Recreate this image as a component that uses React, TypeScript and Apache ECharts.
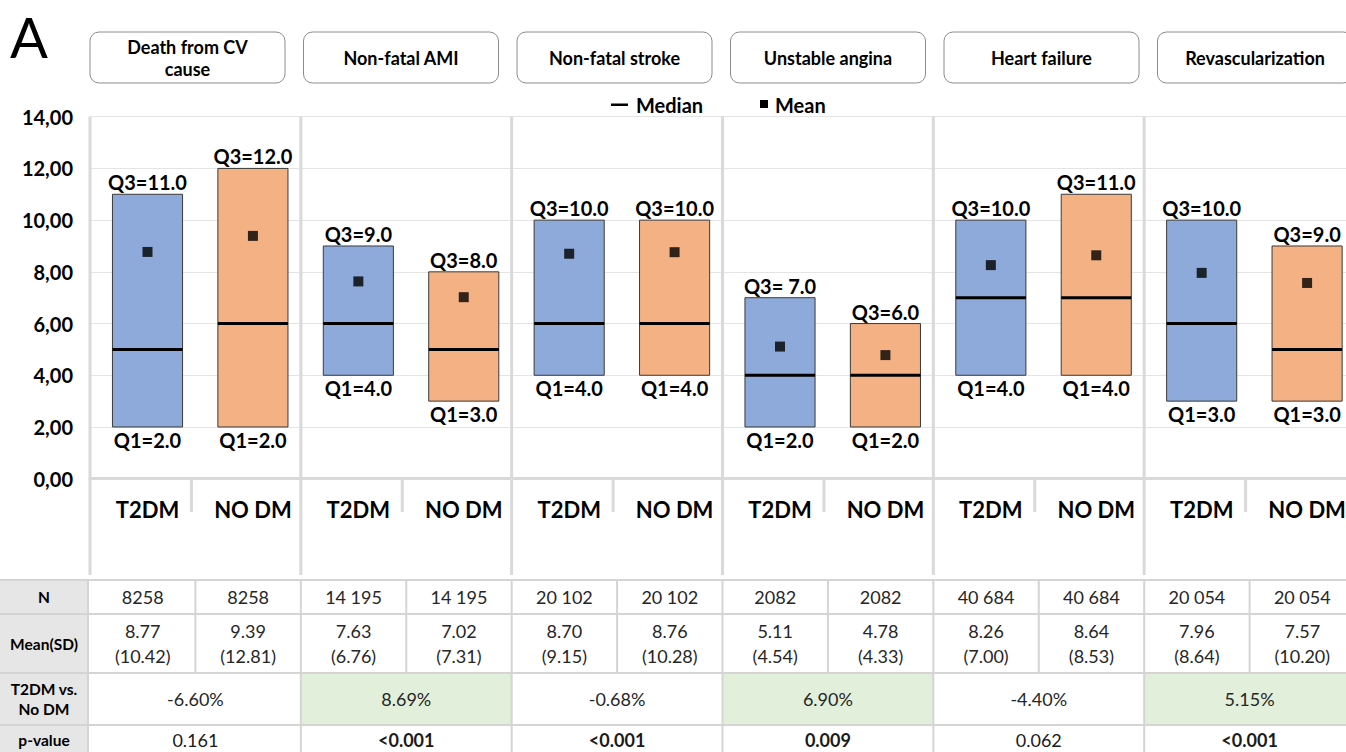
import React, { useEffect, useRef } from "react";
import * as echarts from "echarts";

const outcomes = ["Death from CV\ncause", "Non-fatal AMI", "Non-fatal stroke", "Unstable angina", "Heart failure", "Revascularization"];
const groupLabels = ["T2DM", "NO DM"];
const categories = outcomes.flatMap(() => groupLabels);
const q1Values = [2, 2, 4, 3, 4, 4, 2, 2, 4, 4, 3, 3];
const q3Values = [11, 12, 9, 8, 10, 10, 7, 6, 10, 11, 10, 9];
const q1Labels = ["Q1=2.0", "Q1=2.0", "Q1=4.0", "Q1=3.0", "Q1=4.0", "Q1=4.0", "Q1=2.0", "Q1=2.0", "Q1=4.0", "Q1=4.0", "Q1=3.0", "Q1=3.0"];
const q3Labels = ["Q3=11.0", "Q3=12.0", "Q3=9.0", "Q3=8.0", "Q3=10.0", "Q3=10.0", "Q3= 7.0", "Q3=6.0", "Q3=10.0", "Q3=11.0", "Q3=10.0", "Q3=9.0"];
const medianValues = [5, 6, 6, 5, 6, 6, 4, 4, 7, 7, 6, 5];
const meanValues = [8.77, 9.39, 7.63, 7.02, 8.7, 8.76, 5.11, 4.78, 8.26, 8.64, 7.96, 7.57];
const sdValues = [10.42, 12.81, 6.76, 7.31, 9.15, 10.28, 4.54, 4.33, 7.0, 8.53, 8.64, 10.2];
const nValues = ["8258", "8258", "14 195", "14 195", "20 102", "20 102", "2082", "2082", "40 684", "40 684", "20 054", "20 054"];
const diffValues = ["-6.60%", "8.69%", "-0.68%", "6.90%", "-4.40%", "5.15%"];
const pValues = ["0.161", "<0.001", "<0.001", "0.009", "0.062", "<0.001"];
const rowHeaders = ["N", "Mean(SD)", "T2DM vs.\nNo DM", "p-value"];
const yMin = 0;
const yMax = 14;
const yInterval = 2;

const FONT = "Lato, 'Open Sans', sans-serif";
const BLUE = "#8eaadb";
const ORANGE = "#f4b183";
const GREEN = "#e2efda";
const LINE = "#d9d9d9";
const OFF = 4.8;
const INNER_W = 1356;

export default function App() {
  const ref = useRef<HTMLDivElement>(null);
  useEffect(() => {
    if (!ref.current) return;
    const chart = echarts.init(ref.current, null, { renderer: "svg" });
    const option: any = {
      animation: false,
      grid: { left: 90, right: 1, top: 116.7, bottom: 273.3 },
      xAxis: {
        type: "category",
        data: categories,
        axisLine: { show: true, lineStyle: { color: LINE, width: 3 } },
        axisTick: { show: false },
        splitLine: { show: false },
        axisLabel: {
          interval: 0,
          margin: 20,
          fontSize: 22,
          fontWeight: "bold",
          fontFamily: FONT,
          color: "#000",
          padding: [0, 0, 0, OFF * 2],
        },
      },
      yAxis: {
        type: "value",
        min: yMin,
        max: yMax,
        interval: yInterval,
        axisLine: { show: false },
        axisTick: { show: false },
        splitLine: { lineStyle: { color: "#e4e4e4", width: 1 } },
        axisLabel: {
          margin: 17,
          fontSize: 20,
          fontWeight: "bold",
          fontFamily: FONT,
          color: "#000",
          formatter: (v: number) => v.toFixed(2).replace(".", ","),
        },
      },
      series: [
        {
          type: "custom",
          name: "Box",
          data: categories.map((_, i) => [i, q1Values[i], q3Values[i], medianValues[i]]),
          encode: { x: 0, y: [1, 2, 3] },
          renderItem: (params: any, api: any) => {
            const i = api.value(0);
            const lo = api.value(1);
            const hi = api.value(2);
            const md = api.value(3);
            const pLo = api.coord([i, lo]);
            const pHi = api.coord([i, hi]);
            const pMd = api.coord([i, md]);
            const bw = api.size([1, 0])[0] * 0.665;
            const cx = pLo[0] + OFF;
            const fill = i % 2 === 0 ? BLUE : ORANGE;
            const txt = (text: string, y: number, va: string) => ({
              type: "text",
              x: cx,
              y,
              style: {
                text,
                fill: "#000",
                fontSize: 20,
                fontWeight: "bold",
                fontFamily: FONT,
                align: "center",
                verticalAlign: va,
                textAlign: "center",
                textVerticalAlign: va,
              },
            });
            return {
              type: "group",
              children: [
                {
                  type: "rect",
                  shape: { x: cx - bw / 2, y: pHi[1], width: bw, height: pLo[1] - pHi[1] },
                  style: { fill, stroke: "#3a3a3a", lineWidth: 1 },
                },
                {
                  type: "rect",
                  shape: { x: cx - bw / 2, y: pMd[1] - 1.5, width: bw, height: 3 },
                  style: { fill: "#000" },
                },
                txt(q3Labels[i], pHi[1] - 2, "bottom"),
                txt(q1Labels[i], pLo[1] + 3, "top"),
              ],
            };
          },
          z: 3,
        },
        {
          type: "scatter",
          name: "Mean",
          data: meanValues.map((v, i) => [i, v]),
          symbol: "rect",
          symbolSize: 10,
          symbolOffset: [OFF, 0],
          itemStyle: { color: "#000" },
          z: 4,
        },
      ],
    };
    chart.setOption(option);

    const cx = (k: number) => chart.convertToPixel({ xAxisIndex: 0 }, k) as number;
    const cy = (v: number) => chart.convertToPixel({ yAxisIndex: 0 }, v) as number;
    const w = cx(1) - cx(0);
    const bound = (k: number) => cx(k) - w / 2;
    const yTop = cy(yMax);
    const y0 = cy(0);
    const g: any[] = [];

    const text = (x: number, y: number, t: string, size: number, bold: boolean, extra: any = {}) => ({
      type: "text",
      x,
      y,
      z: 10,
      style: {
        text: t,
        fill: extra.fill || "#000",
        fontSize: size,
        fontWeight: bold ? "bold" : "normal",
        fontFamily: FONT,
        textAlign: extra.align || "center",
        textVerticalAlign: "middle",
        align: extra.align || "center",
        verticalAlign: "middle",
        lineHeight: extra.lineHeight || size * 1.2,
      },
    });
    const line = (x1: number, y1: number, x2: number, y2: number, width = 2.5, color = LINE) => ({
      type: "line",
      z: 1,
      shape: { x1, y1, x2, y2 },
      style: { stroke: color, lineWidth: width },
    });

    // Panel letter
    g.push(text(29, 36, "A", 56, false));

    // Header boxes
    outcomes.forEach((o, i) => {
      const bx = 90 + i * 213.5;
      g.push({
        type: "rect",
        z: 5,
        shape: { x: bx, y: 32, width: 195, height: 51, r: 9 },
        style: { fill: "#fff", stroke: "#8c8c8c", lineWidth: 1 },
      });
      g.push(text(bx + 97.5, 58, o, 18, true, { lineHeight: 22 }));
    });

    // Legend
    g.push({ type: "rect", z: 10, shape: { x: 611, y: 103.5, width: 17, height: 2.5 }, style: { fill: "#000" } });
    g.push(text(636, 105, "Median", 20, true, { align: "left" }));
    g.push({ type: "rect", z: 10, shape: { x: 760, y: 100, width: 8, height: 8 }, style: { fill: "#000" } });
    g.push(text(775, 105, "Mean", 20, true, { align: "left" }));

    // Group dividers and sub-dividers
    for (let k = 0; k <= categories.length; k += 2) {
      g.push(line(bound(k), yTop, bound(k), 575, 3));
    }
    for (let k = 1; k < categories.length; k += 2) {
      g.push(line(bound(k) - 4, y0, bound(k) - 4, 512, 3));
    }

    // Table
    const rows = [580, 614, 673, 725, 762];
    const left = bound(0) - 2;
    rowHeaders.forEach((h, r) => {
      g.push({
        type: "rect",
        z: 0,
        shape: { x: 0, y: rows[r], width: left, height: rows[r + 1] - rows[r] },
        style: { fill: "#e7e6e6" },
      });
      const yc = r === 3 ? 740 : (rows[r] + rows[r + 1]) / 2;
      g.push(text(left / 2, yc, h, 15.5, true, { lineHeight: 20 }));
    });
    outcomes.forEach((_, gi) => {
      if (gi % 2 === 1) {
        g.push({
          type: "rect",
          z: 0,
          shape: { x: bound(gi * 2), y: rows[2], width: bound(gi * 2 + 2) - bound(gi * 2), height: rows[3] - rows[2] },
          style: { fill: GREEN },
        });
      }
      const mid = (bound(gi * 2) + bound(gi * 2 + 2)) / 2;
      g.push(text(mid, (rows[2] + rows[3]) / 2, diffValues[gi], 18, false, { fill: "#262626" }));
      const p = pValues[gi];
      const sig = p.startsWith("<") || parseFloat(p) < 0.05;
      g.push(text(mid, 740, p, 18, sig, { fill: "#1a1a1a", lineHeight: 20 }));
    });
    categories.forEach((_, k) => {
      const mid = (bound(k) + bound(k + 1)) / 2;
      g.push(text(mid, (rows[0] + rows[1]) / 2, nValues[k], 18, false, { fill: "#262626" }));
      g.push(
        text(mid, (rows[1] + rows[2]) / 2, `${meanValues[k].toFixed(2)}\n(${sdValues[k].toFixed(2)})`, 18, false, {
          fill: "#262626",
          lineHeight: 25,
        })
      );
    });
    rows.slice(0, 4).forEach((y) => g.push(line(0, y, INNER_W, y, 2, "#d4d4d4")));
    g.push(line(left, rows[0], left, 760, 2, "#d4d4d4"));
    for (let k = 1; k <= categories.length; k++) {
      const x = bound(k);
      const full = k % 2 === 0;
      g.push(line(x, rows[0], x, full ? 760 : rows[2], 2, "#d4d4d4"));
    }

    chart.setOption({ graphic: g });
    return () => chart.dispose();
  }, []);
  return (
    <div style={{ position: "absolute", left: 0, top: 0, width: 1346, height: 752, overflow: "hidden" }}>
      <div ref={ref} style={{ width: INNER_W, height: 752 }} />
    </div>
  );
}
